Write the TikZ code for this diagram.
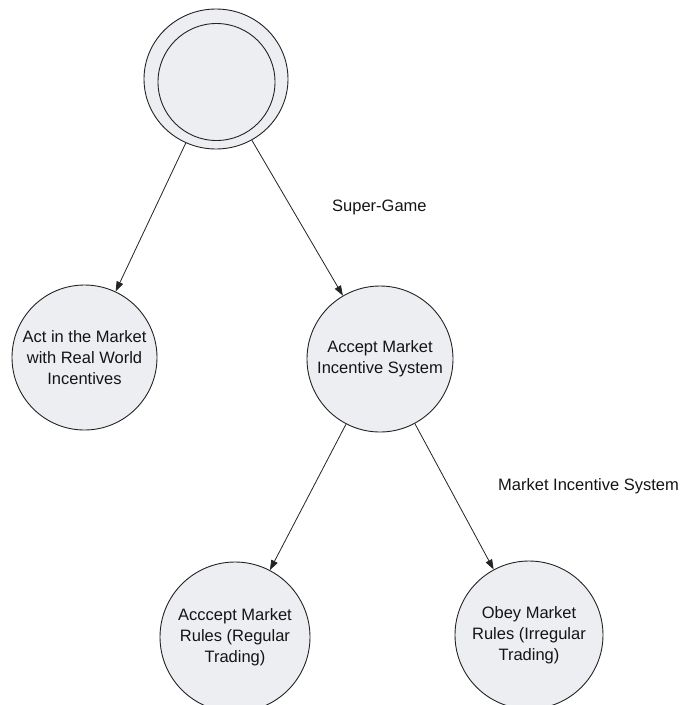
\documentclass[tikz,border=0pt]{standalone}
\usepackage{fontspec}
\setmainfont{Liberation Sans}
\usetikzlibrary{arrows.meta,shapes.geometric}
\definecolor{nodefill}{RGB}{237,238,241}
\definecolor{edgecol}{RGB}{35,35,35}
\begin{document}
\begin{tikzpicture}[x=1pt,y=-1pt,
  every node/.style={font=\fontsize{16.5}{21}\selectfont, text=black!92},
  state/.style={circle, draw=edgecol, line width=0.9pt, fill=nodefill,
    minimum size=#1, inner sep=0pt, align=center},
  link/.style={draw=edgecol, line width=0.8pt, -{Triangle[length=10pt,width=7pt]}},
  tag/.style={anchor=base west, inner sep=0pt}]
\useasboundingbox (0,0) rectangle (681,705);
\clip (0,0) rectangle (681,705);

% root of the game tree: double ring
\node[ellipse, draw=edgecol, line width=0.9pt, fill=nodefill,
      minimum width=144pt, minimum height=140pt, inner sep=0pt] (root) at (216,79) {};
\node[circle, draw=edgecol, line width=0.9pt, minimum size=117pt, inner sep=0pt] (rootring) at (216.5,82) {};

% choices
\node[state=145pt] (act) at (84.5,357.5) {Act in the Market\\with Real World\\Incentives};
\node[state=146pt] (accept) at (380,359) {Accept Market\\Incentive System};
\node[state=150pt] (regular) at (235,637) {Acccept Market\\Rules (Regular\\Trading)};
\node[state=148pt] (irregular) at (529,635) {Obey Market\\Rules (Irregular\\Trading)};

% moves
\draw[link] (root) -- (act);
\draw[link] (root) -- (accept);
\draw[link] (accept) -- (regular);
\draw[link] (accept) -- (irregular);

% stage labels
\node[tag] (supergame) at (332,211) {Super-Game};
\node[tag] (mis) at (498,490) {Market Incentive System};
\end{tikzpicture}
\end{document}
